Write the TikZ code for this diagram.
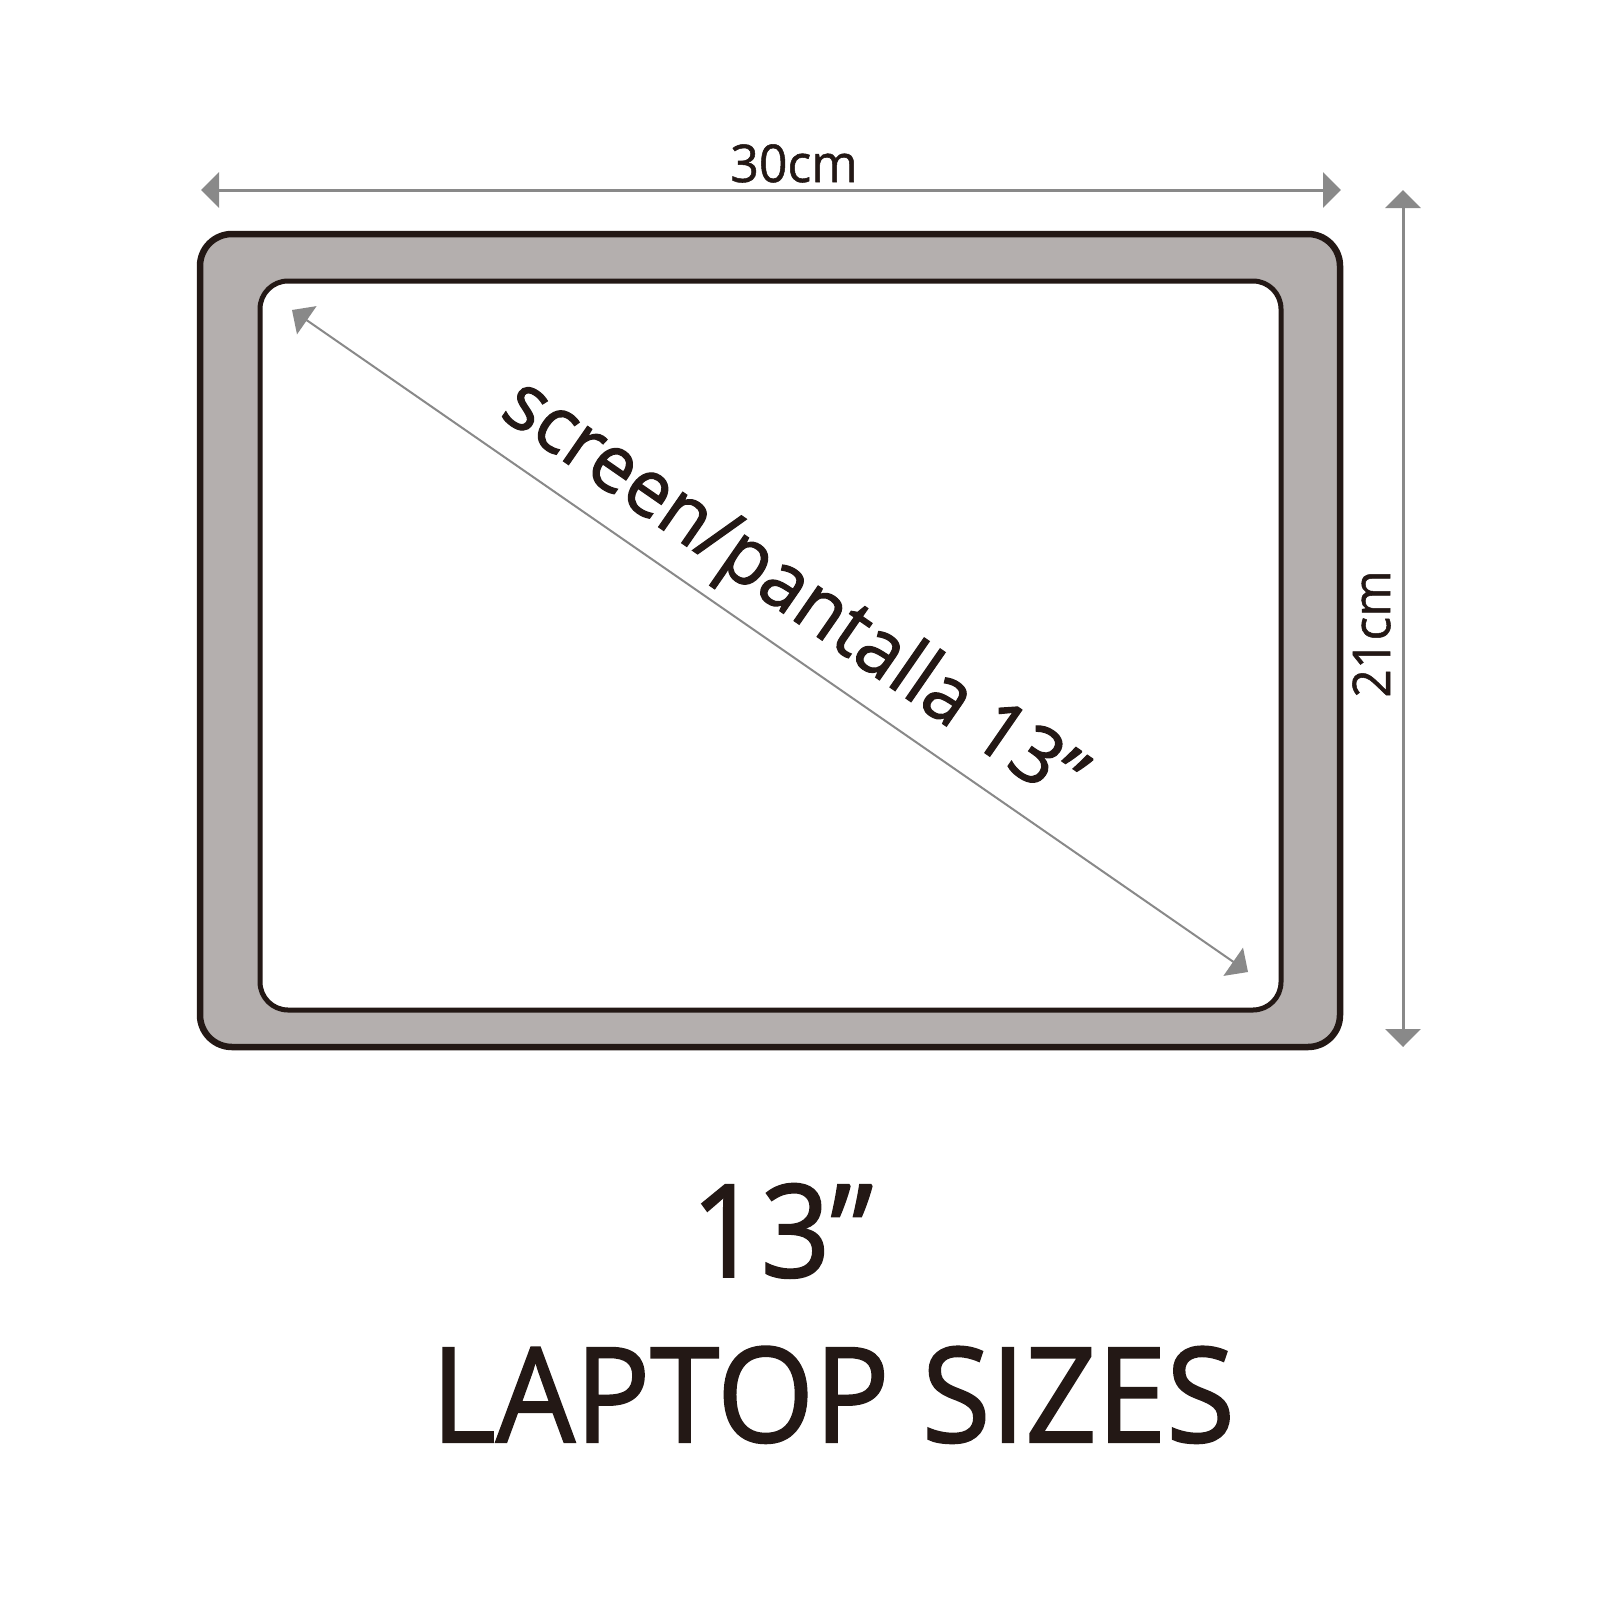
\documentclass[tikz,border=0pt]{standalone}
\usepackage{fontspec}
\setmainfont{Open Sans}
\newfontfamily\lblfont{Open Sans}[FakeBold=1.5]
\newfontfamily\smallfont{Open Sans}[FakeBold=1.0]
\usetikzlibrary{arrows.meta}
\definecolor{ink}{RGB}{35,24,21}
\definecolor{bezel}{RGB}{180,175,174}
\definecolor{dimgray}{RGB}{137,137,137}
\tikzset{
  dimboth/.style={draw=dimgray, line width=3pt, {Triangle[length=18pt,width=35pt]}-{Triangle[length=18pt,width=35pt]}},
  diagboth/.style={draw=dimgray, line width=2pt, {Triangle[length=18pt,width=34pt]}-{Triangle[length=18pt,width=34pt]}},
  lbl/.style={text=ink, inner sep=0pt, anchor=base}
}
\begin{document}
\begin{tikzpicture}[x=1pt,y=-1pt]
\useasboundingbox (0,0) rectangle (1600,1600);
\fill[white] (0,0) rectangle (1600,1600);
% laptop bezel
\draw[ink, fill=bezel, line width=6.5pt, rounded corners=32pt] (200,234) rectangle (1340,1047);
% screen
\draw[ink, fill=white, line width=5pt, rounded corners=28pt] (260,281) rectangle (1281,1010);
% dimension coordinates
\coordinate (wl) at (201,190);
\coordinate (wr) at (1341,190);
\coordinate (ht) at (1403,190);
\coordinate (hb) at (1403,1047);
\coordinate (dtl) at (292,310);
\coordinate (dbr) at (1248,972);
\draw[dimboth] (wl) -- (wr);
\draw[dimboth] (ht) -- (hb);
\draw[diagboth] (dtl) -- (dbr);
% labels
\node[lbl, font=\smallfont\fontsize{52}{52}\selectfont] (w) at (794,182) {\scalebox{0.96}[1]{30cm}};
\node[lbl, rotate=90, font=\smallfont\fontsize{52}{52}\selectfont] (h) at (1390,634) {\scalebox{0.96}[1]{21cm}};
\node[lbl, rotate=-34.7, font=\lblfont\fontsize{79}{79}\selectfont] (d) at (780,611) {\scalebox{0.97}[1]{screen/pantalla 13”}};
\node[lbl, font=\lblfont\fontsize{129}{129}\selectfont] (size) at (782,1277) {\scalebox{0.945}[1]{13”}};
\node[lbl, font=\lblfont\fontsize{132}{132}\selectfont] (title) at (833,1442) {\scalebox{0.947}[1]{LAPTOP SIZES}};
\end{tikzpicture}
\end{document}
